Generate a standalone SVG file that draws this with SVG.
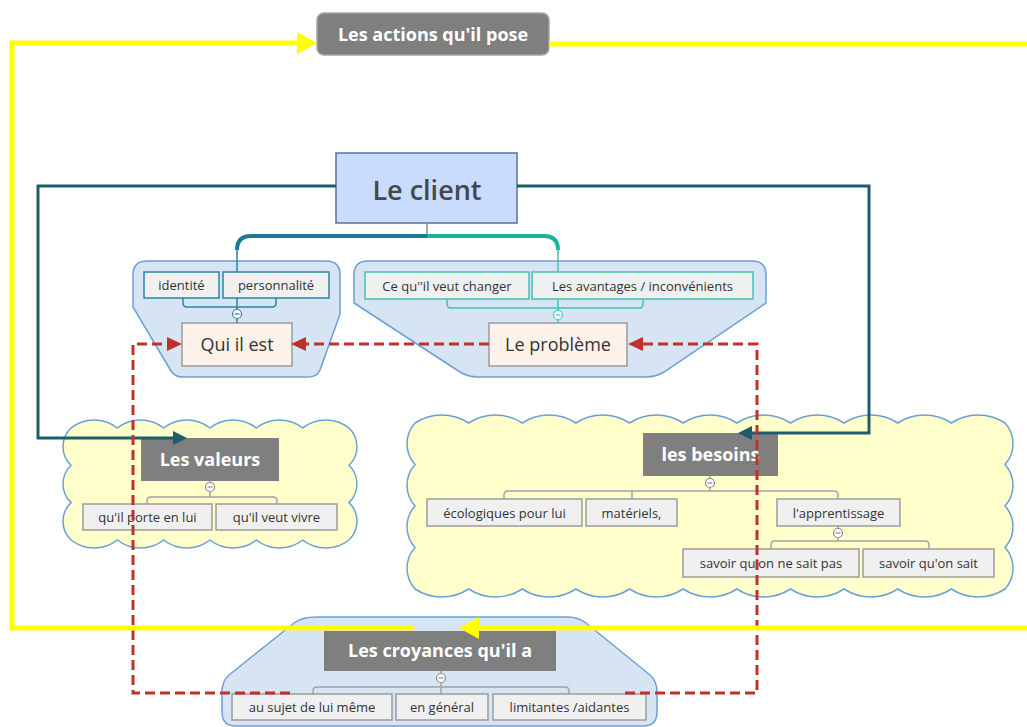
<svg xmlns="http://www.w3.org/2000/svg" width="1027" height="727" viewBox="0 0 1027 727">
  <style>
    text { font-family: "Open Sans", "Liberation Sans", sans-serif; text-anchor: middle; dominant-baseline: central; }
    .blob { fill: #d6e4f4; stroke: #6d9fd5; stroke-width: 1.5; }
    .cloud { fill: #ffffcc; stroke: #6d9fd5; stroke-width: 1.5; }
    .gray rect { fill: #7f7f7f; }
    .gray text { fill: #ffffff; font-size: 18px; font-weight: 700; }
    .leaf rect { fill: #f0f0f0; stroke: #9c9c9c; stroke-width: 1.5; }
    .leaf text { fill: #333333; font-size: 13px; }
    .leafA rect { stroke: #2a86a2; }
    .leafB rect { stroke: #43c2b2; }
    .topic rect { fill: #fdf2e9; stroke: #9a9a9a; stroke-width: 1.5; }
    .topic text { fill: #333333; font-size: 18px; }
    .tree { fill: none; stroke: #a3a3a3; stroke-width: 1.5; }
    .treeA { stroke: #2a86a2; }
    .treeB { stroke: #43c2b2; }
    .knob circle { fill: #ffffff; stroke-width: 1.2; }
    .knob line { stroke-width: 1.2; }
    .teal { fill: none; stroke: #1f5d6c; stroke-width: 3; }
    .yellow { fill: none; stroke: #ffff00; stroke-width: 5; }
    .red { fill: none; stroke: #c0312b; stroke-width: 3; stroke-dasharray: 10 5; }
  </style>
  <defs>
    <marker id="arrTeal" viewBox="0 0 14 14" refX="1" refY="7" markerWidth="14" markerHeight="14" markerUnits="userSpaceOnUse" orient="auto">
      <path d="M0,0 L14,7 L0,14 z" fill="#1f5d6c"/>
    </marker>
    <marker id="arrRed" viewBox="0 0 15 14" refX="1" refY="7" markerWidth="15" markerHeight="14" markerUnits="userSpaceOnUse" orient="auto">
      <path d="M0,0 L15,7 L0,14 z" fill="#c0312b"/>
    </marker>
    <marker id="arrYellow" viewBox="0 0 20 22" refX="1" refY="11" markerWidth="20" markerHeight="22" markerUnits="userSpaceOnUse" orient="auto">
      <path d="M0,0 L20,11 L0,22 z" fill="#ffff00"/>
    </marker>
  </defs>

  <!-- boundaries -->
  <g id="boundaries">
    <path class="blob" d="M147,261 H326 Q340,261 340,275 V314 L320,370 Q317,377 308,377 H182 Q175,377 171,371 L133,307 V275 Q133,261 147,261 Z"/>
    <path class="blob" d="M368,261 H752 Q766,261 766,275 V303 L664,372 Q656,377 646,377 H478 Q468,377 460,372 L354,303 V275 Q354,261 368,261 Z"/>
    <path class="cloud" d="M71,428 a37.5,37.5 0 0 1 46.33,0 a37.5,37.5 0 0 1 46.33,0 a37.5,37.5 0 0 1 46.33,0 a37.5,37.5 0 0 1 46.33,0 a37.5,37.5 0 0 1 46.33,0 a37.5,37.5 0 0 1 46.33,0 a25.8,25.8 0 0 1 0,37.33 a25.8,25.8 0 0 1 0,37.33 a25.8,25.8 0 0 1 0,37.33 a37.5,37.5 0 0 1 -46.33,0 a37.5,37.5 0 0 1 -46.33,0 a37.5,37.5 0 0 1 -46.33,0 a37.5,37.5 0 0 1 -46.33,0 a37.5,37.5 0 0 1 -46.33,0 a37.5,37.5 0 0 1 -46.33,0 a25.8,25.8 0 0 1 0,-37.33 a25.8,25.8 0 0 1 0,-37.33 a25.8,25.8 0 0 1 0,-37.33 Z"/>
    <path class="cloud" d="M415,423 a49,49 0 0 1 53.64,0 a49,49 0 0 1 53.64,0 a49,49 0 0 1 53.64,0 a49,49 0 0 1 53.64,0 a49,49 0 0 1 53.64,0 a49,49 0 0 1 53.64,0 a49,49 0 0 1 53.64,0 a49,49 0 0 1 53.64,0 a49,49 0 0 1 53.64,0 a49,49 0 0 1 53.64,0 a49,49 0 0 1 53.64,0 a31,31 0 0 1 0,41.5 a31,31 0 0 1 0,41.5 a31,31 0 0 1 0,41.5 a31,31 0 0 1 0,41.5 a49,49 0 0 1 -53.64,0 a49,49 0 0 1 -53.64,0 a49,49 0 0 1 -53.64,0 a49,49 0 0 1 -53.64,0 a49,49 0 0 1 -53.64,0 a49,49 0 0 1 -53.64,0 a49,49 0 0 1 -53.64,0 a49,49 0 0 1 -53.64,0 a49,49 0 0 1 -53.64,0 a49,49 0 0 1 -53.64,0 a49,49 0 0 1 -53.64,0 a31,31 0 0 1 0,-41.5 a31,31 0 0 1 0,-41.5 a31,31 0 0 1 0,-41.5 a31,31 0 0 1 0,-41.5 Z"/>
    <path class="blob" d="M316,617 H568 Q578,617 586,623 L650,675 Q657,681 657,692 V712 Q657,726 643,726 H236 Q222,726 222,712 V692 Q222,681 229,675 L294,623 Q302,617 316,617 Z"/>
  </g>

  <!-- connectors -->
  <g id="connectors">
    <!-- client branches -->
    <line x1="427" y1="223" x2="427" y2="236" stroke="#8c8c8c" stroke-width="1.5"/>
    <path d="M237,250 Q237,236 251,236 H427" fill="none" stroke="#1b7a98" stroke-width="4"/>
    <path d="M427,236 H544 Q558,236 558,250" fill="none" stroke="#17b39c" stroke-width="4"/>
    <path class="tree treeA" d="M237,248 V309.5 M237,318.5 V323 M183,298 V303 Q183,307 187,307 H272 Q276,307 276,303 V298"/>
    <path class="tree treeB" d="M558,248 V310.5 M558,319.5 V323 M447,299 V304 Q447,308 451,308 H639 Q643,308 643,304 V299"/>
    <!-- value tree -->
    <path class="tree" d="M210,481 V482.5 M210,491.5 V497 M147,504 V501 Q147,497 151,497 H273 Q277,497 277,501 V504"/>
    <!-- needs tree -->
    <path class="tree" d="M710,476 V478.5 M710,487.5 V491 M504,499 V495 Q504,491 508,491 H834 Q838,491 838,495 V499 M632,491 V499"/>
    <path class="tree" d="M838,526 V528.5 M838,537.5 V541 M771,549 V545 Q771,541 775,541 H925 Q929,541 929,545 V549"/>
    <!-- beliefs tree -->
    <path class="tree" d="M441,671 V673.5 M441,682.5 V694 M313,694 V691 Q313,687 317,687 H565 Q569,687 569,691 V694"/>
  </g>

  <g id="knobs">
    <g class="knob" stroke="#2a86a2"><circle cx="237" cy="314" r="4.5"/><line x1="234.5" y1="314" x2="239.5" y2="314"/></g>
    <g class="knob" stroke="#43c2b2"><circle cx="558" cy="315" r="4.5"/><line x1="555.5" y1="315" x2="560.5" y2="315"/></g>
    <g class="knob" stroke="#8c8c8c"><circle cx="210" cy="487" r="4.5"/><line x1="207.5" y1="487" x2="212.5" y2="487"/></g>
    <g class="knob" stroke="#8c8c8c"><circle cx="710" cy="483" r="4.5"/><line x1="707.5" y1="483" x2="712.5" y2="483"/></g>
    <g class="knob" stroke="#8c8c8c"><circle cx="838" cy="533" r="4.5"/><line x1="835.5" y1="533" x2="840.5" y2="533"/></g>
    <g class="knob" stroke="#8c8c8c"><circle cx="441" cy="678" r="4.5"/><line x1="438.5" y1="678" x2="443.5" y2="678"/></g>
  </g>

  <!-- nodes -->
  <g id="actions" class="gray">
    <rect x="317" y="13" width="232" height="42" rx="7" stroke="#a6a6a6" stroke-width="1.5"/>
    <text x="433" y="34">Les actions qu'il pose</text>
  </g>
  <g id="client">
    <rect x="336" y="153" width="181" height="70" fill="#c9dcfd" stroke="#5671a6" stroke-width="1.5"/>
    <text x="427" y="189" font-size="27" font-weight="600" fill="#474747">Le client</text>
  </g>
  <g id="identite" class="leaf leafA">
    <rect x="144" y="272" width="75" height="26"/>
    <text x="181.5" y="285">identité</text>
  </g>
  <g id="personnalite" class="leaf leafA">
    <rect x="223" y="272" width="106" height="26"/>
    <text x="276" y="285">personnalité</text>
  </g>
  <g id="qui-il-est" class="topic">
    <rect x="182" y="323" width="110" height="43"/>
    <text x="237" y="344">Qui il est</text>
  </g>
  <g id="changer" class="leaf leafB">
    <rect x="365" y="272" width="164" height="27"/>
    <text x="447" y="285.5">Ce qu''il veut changer</text>
  </g>
  <g id="avantages" class="leaf leafB">
    <rect x="532" y="272" width="221" height="27"/>
    <text x="642.5" y="285.5">Les avantages / inconvénients</text>
  </g>
  <g id="probleme" class="topic">
    <rect x="489" y="323" width="138" height="43"/>
    <text x="558" y="344">Le problème</text>
  </g>

  <g id="valeurs" class="gray">
    <rect x="141" y="438" width="138" height="43"/>
    <text x="210" y="459">Les valeurs</text>
  </g>
  <g id="porte" class="leaf">
    <rect x="83" y="504" width="129" height="26"/>
    <text x="147.5" y="517">qu'il porte en lui</text>
  </g>
  <g id="vivre" class="leaf">
    <rect x="216" y="504" width="121" height="26"/>
    <text x="276.5" y="517">qu'il veut vivre</text>
  </g>

  <g id="besoins" class="gray">
    <rect x="643" y="433" width="135" height="43"/>
    <text x="710.5" y="454">les besoins</text>
  </g>
  <g id="ecologiques" class="leaf">
    <rect x="427" y="499" width="155" height="27"/>
    <text x="504.5" y="512.5">écologiques pour lui</text>
  </g>
  <g id="materiels" class="leaf">
    <rect x="586" y="499" width="91" height="27"/>
    <text x="631.5" y="512.5">matériels,</text>
  </g>
  <g id="apprentissage" class="leaf">
    <rect x="777" y="499" width="123" height="27"/>
    <text x="838.5" y="512.5">l'apprentissage</text>
  </g>
  <g id="ne-sait-pas" class="leaf">
    <rect x="683" y="549" width="176" height="28"/>
    <text x="771" y="563">savoir qu'on ne sait pas</text>
  </g>
  <g id="sait" class="leaf">
    <rect x="863" y="549" width="131" height="28"/>
    <text x="928.5" y="563">savoir qu'on sait</text>
  </g>

  <g id="croyances" class="gray">
    <rect x="324" y="631" width="232" height="40"/>
    <text x="440" y="650">Les croyances qu'il a</text>
  </g>
  <g id="sujet" class="leaf">
    <rect x="232" y="694" width="160" height="26"/>
    <text x="312" y="707">au sujet de lui même</text>
  </g>
  <g id="general" class="leaf">
    <rect x="396" y="694" width="92" height="26"/>
    <text x="442" y="707">en général</text>
  </g>
  <g id="limitantes" class="leaf">
    <rect x="493" y="694" width="153" height="26"/>
    <text x="569.5" y="707">limitantes /aidantes</text>
  </g>

  <!-- relationship links -->
  <g id="links">
    <path class="teal" d="M336,186 H38 V438 H174" marker-end="url(#arrTeal)"/>
    <path class="teal" d="M517,186 H869 V433 H751" marker-end="url(#arrTeal)"/>
    <path class="red" d="M489,344 H305" marker-end="url(#arrRed)"/>
    <path class="red" d="M290,693 H133 V344 H168" marker-end="url(#arrRed)"/>
    <path class="red" d="M625,693 H757 V344 H642" marker-end="url(#arrRed)"/>
    <path class="yellow" d="M413,628 H12 V43 H298" marker-end="url(#arrYellow)"/>
    <path class="yellow" d="M549,44 H1040 V628 H478" marker-end="url(#arrYellow)"/>
  </g>
</svg>
